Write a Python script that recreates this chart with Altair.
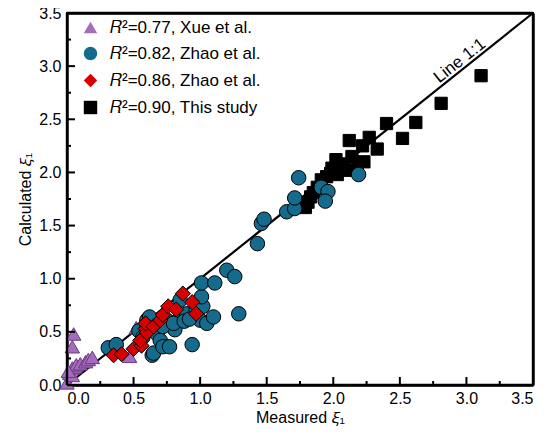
import altair as alt
import pandas as pd

# ---------------- data ----------------
series_names = ["𝑅²=0.77, Xue et al.", "𝑅²=0.82, Zhao et al.", "𝑅²=0.86, Zhao et al.", "𝑅²=0.90, This study"]

tri_x = [0.00, 0.02, 0.04, 0.04, 0.05, 0.04, 0.06, 0.07, 0.10, 0.14, 0.16, 0.19, 0.01, 0.47, 0.52]
tri_y = [0.02, 0.11, 0.09, 0.36, 0.48, 0.16, 0.17, 0.19, 0.20, 0.22, 0.24, 0.26, 0.13, 0.27, 0.54]

cir_x = [0.31, 0.37, 0.54, 0.57, 0.60, 0.60, 0.62, 0.64, 0.64, 0.65, 0.67, 0.70, 0.72, 0.75, 0.77,
         0.81, 0.85, 0.85, 0.90, 0.94, 0.97, 1.00, 1.00, 1.02, 1.05, 1.10, 1.01, 1.01, 1.11, 1.20,
         1.26, 1.29, 1.43, 1.46, 1.48, 1.65, 1.71, 1.71, 1.74, 1.91, 1.96, 1.94, 2.19, 0.72, 0.80,
         0.88, 0.92]
cir_y = [0.35, 0.38, 0.51, 0.45, 0.58, 0.61, 0.64, 0.52, 0.28, 0.30, 0.49, 0.42, 0.36, 0.61, 0.36,
         0.52, 0.64, 0.80, 0.67, 0.38, 0.71, 0.61, 0.80, 0.74, 0.58, 0.64, 0.83, 0.96, 0.96, 1.08,
         1.02, 0.67, 1.33, 1.52, 1.56, 1.63, 1.66, 1.76, 1.95, 1.86, 1.82, 1.73, 1.98, 0.55, 0.58,
         0.60, 0.62]

dia_x = [0.35, 0.41, 0.50, 0.56, 0.55, 0.59, 0.60, 0.59, 0.65, 0.70, 0.72, 0.76, 0.82, 0.87, 0.94, 0.97]
dia_y = [0.28, 0.29, 0.34, 0.37, 0.42, 0.53, 0.49, 0.58, 0.55, 0.61, 0.66, 0.74, 0.71, 0.86, 0.78, 0.67]

sq_x = [1.79, 1.81, 1.83, 1.85, 1.88, 1.91, 1.95, 1.98, 1.99, 2.02, 2.03, 2.06, 2.08, 2.10, 2.12,
        2.14, 2.18, 2.23, 2.22, 2.27, 2.33, 2.40, 2.52, 2.62, 2.81, 3.11]
sq_y = [1.67, 1.72, 1.77, 1.81, 1.86, 1.93, 1.96, 1.99, 2.04, 2.12, 1.98, 2.06, 2.08, 2.02, 2.30,
        2.15, 2.07, 2.10, 2.25, 2.33, 2.22, 2.46, 2.32, 2.47, 2.65, 2.91]

line_x = [0.0, 3.5]
line_y = [0.0, 3.5]

major_ticks = [0.0, 0.5, 1.0, 1.5, 2.0, 2.5, 3.0, 3.5]
minor_ticks = [0.25, 0.75, 1.25, 1.75, 2.25, 2.75, 3.25]

fills = ["#a56bbd", "#146b8c", "#d60000", "#000000"]
strokes = ["#6a3d7e", "#000000", "#000000", "#000000"]
shapes = ["triangle-up", "circle", "diamond", "square"]
sizes = [210, 210, 230, 150]

# ---------------- tables ----------------
series_xy = {
    series_names[0]: (tri_x, tri_y),
    series_names[1]: (cir_x, cir_y),
    series_names[2]: (dia_x, dia_y),
    series_names[3]: (sq_x, sq_y),
}
W, H = 466, 372
DOM = [0, 3.5]
lo, hi = DOM
ux = (hi - lo) / W
uy = (hi - lo) / H

xscale = alt.Scale(domain=DOM, nice=False, zero=False)
yscale = alt.Scale(domain=DOM, nice=False, zero=False)
fill_scale = alt.Scale(domain=series_names, range=fills)
shape_scale = alt.Scale(domain=series_names, range=shapes)

FONT = "Liberation Sans"

frame_axis = dict(labels=False, ticks=False, title="", domain=True,
                  domainColor="black", domainWidth=2.4, grid=False)


def seg(x0, y0, x1, y1, xaxis=None, yaxis=None):
    d = pd.DataFrame({"x": [x0, x1], "y": [y0, y1]})
    return alt.Chart(d).mark_line(color="black", strokeWidth=2.4).encode(
        x=alt.X("x:Q", scale=xscale, axis=xaxis),
        y=alt.Y("y:Q", scale=yscale, axis=yaxis))


line = alt.Chart(pd.DataFrame({"x": line_x, "y": line_y})).mark_line(
    color="black", strokeWidth=2.2).encode(
    x=alt.X("x:Q", scale=xscale,
            axis=alt.Axis(title="Measured 𝜉₁", values=major_ticks, format=".1f",
                          domain=True, domainColor="black", domainWidth=2.4)),
    y=alt.Y("y:Q", scale=yscale,
            axis=alt.Axis(title="Calculated 𝜉₁", values=major_ticks, format=".1f",
                          domain=True, domainColor="black", domainWidth=2.4)),
)

frame = [seg(lo, lo, hi, lo),
         seg(lo, hi, hi, hi, xaxis=alt.Axis(orient="top", **frame_axis)),
         seg(lo, lo, lo, hi),
         seg(hi, lo, hi, hi, yaxis=alt.Axis(orient="right", **frame_axis))]

tv = major_ticks + minor_ticks
tl = [8] * len(major_ticks) + [4] * len(minor_ticks)
xtick_df = pd.DataFrame({"v": tv, "b": [lo] * len(tv), "e": [lo + L * uy for L in tl]})
ytick_df = pd.DataFrame({"v": tv, "b": [lo] * len(tv), "e": [lo + L * ux for L in tl]})
xticks = alt.Chart(xtick_df).mark_rule(color="black", strokeWidth=2).encode(
    x=alt.X("v:Q", scale=xscale, axis=None), y=alt.Y("b:Q", scale=yscale, axis=None), y2="e:Q")
yticks = alt.Chart(ytick_df).mark_rule(color="black", strokeWidth=2).encode(
    y=alt.Y("v:Q", scale=yscale, axis=None), x=alt.X("b:Q", scale=xscale, axis=None), x2="e:Q")

label_df = pd.DataFrame({"x": [2.95], "y": [3.05], "t": ["Line 1:1"]})
line_label = alt.Chart(label_df).mark_text(
    angle=321.4, fontSize=17, font=FONT, color="black", align="center", baseline="middle"
).encode(x=alt.X("x:Q", scale=xscale, axis=None), y=alt.Y("y:Q", scale=yscale, axis=None),
         text="t:N")

legend = alt.Legend(title=None, orient="top-left", offset=6, symbolOffset=9,
                    labelFont=FONT, labelFontSize=17, labelLimit=400,
                    symbolSize=180, rowPadding=8, padding=0,
                    symbolStrokeColor="black", symbolStrokeWidth=1, labelOffset=11)


def series_layer(i, show_legend):
    name = series_names[i]
    xs, ys = series_xy[name]
    d = pd.DataFrame({"x": xs, "y": ys, "series": name})
    return alt.Chart(d).mark_point(
        filled=True, opacity=1, size=sizes[i], stroke=strokes[i], strokeWidth=1
    ).encode(
        x=alt.X("x:Q", scale=xscale, axis=None),
        y=alt.Y("y:Q", scale=yscale, axis=None),
        fill=alt.Fill("series:N", scale=fill_scale, legend=legend if show_legend else None),
        shape=alt.Shape("series:N", scale=shape_scale, legend=legend if show_legend else None),
    )


# draw order: squares, triangles, circles, diamonds
pts = [series_layer(3, True), series_layer(0, False), series_layer(1, False), series_layer(2, False)]

chart = alt.layer(line, *pts, xticks, yticks, *frame, line_label).resolve_axis(
    x="independent", y="independent"
).properties(
    width=W, height=H,
    autosize=alt.AutoSizeParams(type="none"),
    padding={"left": 59, "top": 5, "right": 8, "bottom": 50},
).configure_view(
    stroke="black", strokeWidth=2
).configure_axis(
    ticks=False, grid=False,
    labelFont=FONT, labelFontSize=16, labelColor="black",
    titleFont=FONT, titleFontSize=16, titleColor="black", titleFontWeight="normal",
).configure_axisX(labelPadding=5, titlePadding=3).configure_axisY(labelPadding=6, titlePadding=5)

chart.save("out.html", embed_options={"renderer": "svg", "actions": False})
